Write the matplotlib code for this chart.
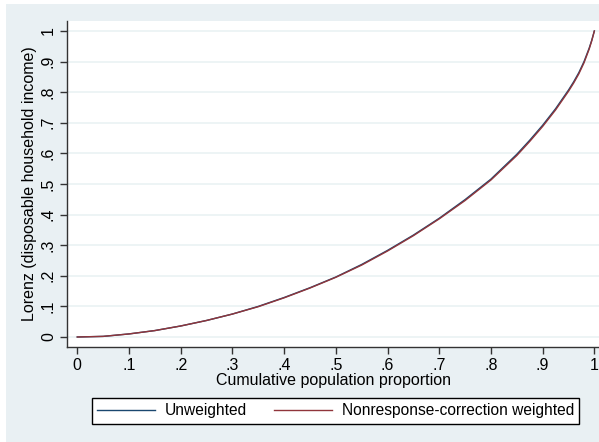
import numpy as np
import matplotlib.pyplot as plt
from matplotlib.patches import Rectangle

plt.rcParams['font.family'] = ['Liberation Sans', 'DejaVu Sans']

# cumulative population share and Lorenz ordinates
pop_share = [0, .05, .1, .15, .2, .25, .3, .35, .4, .45, .5, .55, .6, .65,
             .7, .75, .8, .85, .875, .9, .925, .95, .96, .97, .98, .99, .995, 1.0]
lorenz_unweighted = [0, .002, .010, .021, .036, .054, .075, .100, .129, .161,
                     .196, .237, .283, .333, .388, .449, .516, .597, .643,
                     .692, .746, .807, .834, .864, .900, .944, .970, 1.0]
lorenz_weighted = [0, .002, .010, .021, .036, .054, .075, .099, .128, .160,
                   .195, .235, .281, .331, .386, .446, .513, .593, .639,
                   .688, .742, .803, .830, .860, .896, .941, .968, 1.0]
tick_vals = [0, .1, .2, .3, .4, .5, .6, .7, .8, .9, 1]
tick_labels = ['0', '.1', '.2', '.3', '.4', '.5', '.6', '.7', '.8', '.9', '1']

W, H = 599, 442
fig = plt.figure(figsize=(W / 100, H / 100), dpi=100, facecolor='white')
# stata-style graph region
fig.patches.append(Rectangle((6 / W, 0), 1, 1 - 4 / H, transform=fig.transFigure,
                             facecolor='#e9f0f3', edgecolor='none', zorder=-10))

ax = fig.add_axes([67 / W, 1 - 347 / H, (W - 67) / W, (347 - 21) / H])
ax.set_facecolor('white')

navy = '#1a476f'
maroon = '#90353b'
ax.plot(pop_share, lorenz_unweighted, color=navy, lw=1.0, label='Unweighted')
ax.plot(pop_share, lorenz_weighted, color=maroon, lw=1.0,
        label='Nonresponse-correction weighted')

ax.set_xlim(-0.0199, 1.009)
ax.set_ylim(-0.0327, 1.0327)
ax.set_xticks(tick_vals)
ax.set_xticklabels(tick_labels)
ax.set_yticks(tick_vals)
ax.set_yticklabels(tick_labels, rotation=90, va='center')
ax.grid(axis='y', color='#eaf2f3', lw=1.2)
ax.set_axisbelow(True)

for s in ['top', 'right']:
    ax.spines[s].set_visible(False)
for s in ['left', 'bottom']:
    ax.spines[s].set_color('#333333')
    ax.spines[s].set_linewidth(1.0)
ax.tick_params(axis='both', direction='out', length=5, width=1, color='#333333',
               labelsize=11.5, labelcolor='black')
ax.tick_params(axis='x', pad=3)
ax.tick_params(axis='y', pad=3)

ax.set_xlabel('Cumulative population proportion', fontsize=11.5, labelpad=0)
ax.set_ylabel('Lorenz (disposable household income)', fontsize=11.5, labelpad=3)

leg = ax.legend(loc='center', bbox_to_anchor=(89 / W, 1 - 425 / H, (582 - 89) / W, (425 - 397) / H),
                bbox_transform=fig.transFigure, ncol=2,
                frameon=True, fancybox=False, fontsize=11.2, handlelength=3.7,
                borderpad=0.35, columnspacing=1.75, handletextpad=0.65, borderaxespad=0)
leg.get_frame().set_edgecolor('black')
leg.get_frame().set_linewidth(1.0)
leg.get_frame().set_alpha(1)

fig.savefig('out.png', dpi=100, facecolor=fig.get_facecolor())
